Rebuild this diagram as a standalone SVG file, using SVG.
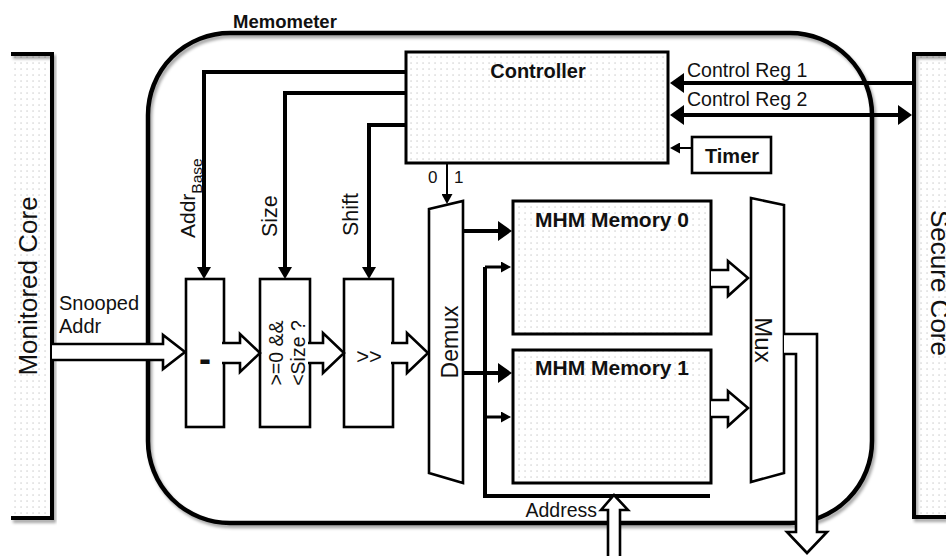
<svg xmlns="http://www.w3.org/2000/svg" width="946" height="556" viewBox="0 0 946 556">
<style>
text{font-family:"Liberation Sans",Arial,sans-serif;fill:#111}
.b{font-weight:bold}
.box{fill:url(#dots);stroke:#000;stroke-width:3}
.wbox{fill:#fff;stroke:#000;stroke-width:2.6}
.hol{fill:#fff;stroke:#000;stroke-width:2.6;stroke-linejoin:miter}
.thick{fill:none;stroke:#000;stroke-width:4}
.med{fill:none;stroke:#000;stroke-width:3}
.thin{fill:none;stroke:#000;stroke-width:2}
</style>
<defs>
<pattern id="dots" width="6" height="6" patternUnits="userSpaceOnUse">
<rect width="6" height="6" fill="#fff"/>
<rect x="2.5" y="2.5" width="1.1" height="1.1" fill="#b8b8b8"/>
</pattern>
<filter id="sh" x="-5%" y="-5%" width="115%" height="115%">
<feDropShadow dx="2" dy="3" stdDeviation="1.8" flood-color="#000" flood-opacity="0.35"/>
</filter>
<marker id="big" markerUnits="userSpaceOnUse" markerWidth="14" markerHeight="20" viewBox="0 0 14 20" refX="4" refY="10" orient="auto-start-reverse"><path d="M0,0 L14,10 L0,20 z" fill="#000"/></marker>
<marker id="mid" markerUnits="userSpaceOnUse" markerWidth="12" markerHeight="14" viewBox="0 0 12 14" refX="3" refY="7" orient="auto-start-reverse"><path d="M0,0 L12,7 L0,14 z" fill="#000"/></marker>
<marker id="sm" markerUnits="userSpaceOnUse" markerWidth="10" markerHeight="11" viewBox="0 0 10 11" refX="2" refY="5.5" orient="auto-start-reverse"><path d="M0,0 L10,5.5 L0,11 z" fill="#000"/></marker>
</defs>
<rect width="946" height="556" fill="#fff"/>

<g id="monitored-core">
<rect x="11" y="54" width="41" height="464" fill="url(#dots)"/>
<path d="M11,54 H52 V518 H11" fill="none" stroke="#000" stroke-width="4" filter="url(#sh)"/>
<text transform="translate(37,286) rotate(-90)" text-anchor="middle" font-size="26">Monitored Core</text>
</g>

<g id="secure-core">
<rect x="914" y="54" width="32" height="463" fill="url(#dots)"/>
<path d="M946,54 H914 V517 H946" fill="none" stroke="#000" stroke-width="4" filter="url(#sh)"/>
<text transform="translate(931,283) rotate(90)" text-anchor="middle" font-size="26">Secure Core</text>
</g>

<g id="memometer">
<rect x="148" y="33" width="724" height="490" rx="82" ry="82" fill="none" stroke="#000" stroke-width="4.5" filter="url(#sh)"/>
<text class="b" x="233" y="28" font-size="18.5">Memometer</text>
</g>

<g id="controller">
<rect class="box" x="406" y="52" width="262" height="111"/>
<text class="b" x="538" y="78" font-size="20" text-anchor="middle">Controller</text>
</g>

<g id="timer">
<rect class="wbox" x="692" y="137" width="79" height="36"/>
<text class="b" x="732" y="163" font-size="20" text-anchor="middle">Timer</text>
</g>

<g id="subtract">
<rect class="wbox" x="186" y="279" width="38" height="148"/>
<text class="b" x="205" y="371" font-size="36" text-anchor="middle">-</text>
</g>

<g id="range-check">
<rect class="wbox" x="260" y="279" width="50" height="148"/>
<text transform="translate(283,353) rotate(-90)" text-anchor="middle" font-size="19.5">&gt;=0 &amp;&amp;</text>
<text transform="translate(305,353) rotate(-90)" text-anchor="middle" font-size="19.5">&lt;Size ?</text>
</g>

<g id="shifter">
<rect class="wbox" x="344" y="279" width="49" height="148"/>
<text x="369" y="364" font-size="22" text-anchor="middle">&gt;&gt;</text>
</g>

<g id="demux">
<polygon class="wbox" points="429,209 463,201 463,483 429,473"/>
<text transform="translate(458,342) rotate(-90)" text-anchor="middle" font-size="23">Demux</text>
</g>

<g id="mhm-memory-0">
<rect class="box" x="513" y="201" width="198" height="133"/>
<text class="b" x="612" y="227" font-size="21" text-anchor="middle">MHM Memory 0</text>
</g>

<g id="mhm-memory-1">
<rect class="box" x="513" y="350" width="198" height="133"/>
<text class="b" x="612" y="375" font-size="21" text-anchor="middle">MHM Memory 1</text>
</g>

<g id="mux">
<polygon class="wbox" points="751,198 784,205 784,473 751,482"/>
<text transform="translate(755,340) rotate(90)" text-anchor="middle" font-size="24">Mux</text>
</g>

<g id="connectors">
<path class="thick" d="M406,72 H204 V270" marker-end="url(#mid)"/>
<path class="thick" d="M406,93 H285 V270" marker-end="url(#mid)"/>
<path class="thick" d="M406,125 H369 V270" marker-end="url(#mid)"/>
<text transform="translate(195,238) rotate(-90)" font-size="21">Addr<tspan font-size="15.5" dy="7">Base</tspan></text>
<text transform="translate(277,237) rotate(-90)" font-size="21.5">Size</text>
<text transform="translate(358,236) rotate(-90)" font-size="21.5">Shift</text>

<path class="thick" d="M914,83 H680" marker-end="url(#big)"/>
<path class="thick" d="M680,115 H902" marker-start="url(#big)" marker-end="url(#big)"/>
<text x="687" y="77" font-size="19.5">Control Reg 1</text>
<text x="687" y="106" font-size="19.5">Control Reg 2</text>
<path class="thin" d="M692,148 H678" marker-end="url(#sm)"/>

<path class="thin" d="M447,163 V196" marker-end="url(#sm)"/>
<text x="428" y="183" font-size="17">0</text>
<text x="454" y="183" font-size="17">1</text>

<path class="thick" d="M463,231 H502" marker-end="url(#big)"/>
<path class="thick" d="M463,373 H502" marker-end="url(#big)"/>

<path class="thick" d="M710,496 H485 V267"/>
<path class="med" d="M485,267 H503" marker-end="url(#sm)"/>
<path class="med" d="M485,417 H503" marker-end="url(#sm)"/>

<path class="hol" d="M52,344 H163 V335 L185,352 L163,369 V360 H52"/>
<text x="59" y="310" font-size="20">Snooped</text>
<text x="59" y="333" font-size="20">Addr</text>
<path class="hol" d="M222,343 H240 V334 L260,353 L240,372 V363 H222"/>
<path class="hol" d="M308,343 H323 V333 L344,353 L323,373 V363 H308"/>
<path class="hol" d="M391,343 H407 V333 L428,353 L407,373 V363 H391"/>

<path class="hol" d="M711,270 H728 V261 L748,278 L728,296 V287 H711"/>
<path class="hol" d="M711,400 H728 V391 L748,408 L728,426 V417 H711"/>
<path class="hol" d="M784,334 H817 V532 H827 L807,553 L787,532 H796 V354 H784"/>

<path class="hol" d="M608,560 V510 H601 L614,495 L628,510 H620 V560"/>
<text x="597" y="517" font-size="19.5" text-anchor="end">Address</text>
</g>
</svg>
